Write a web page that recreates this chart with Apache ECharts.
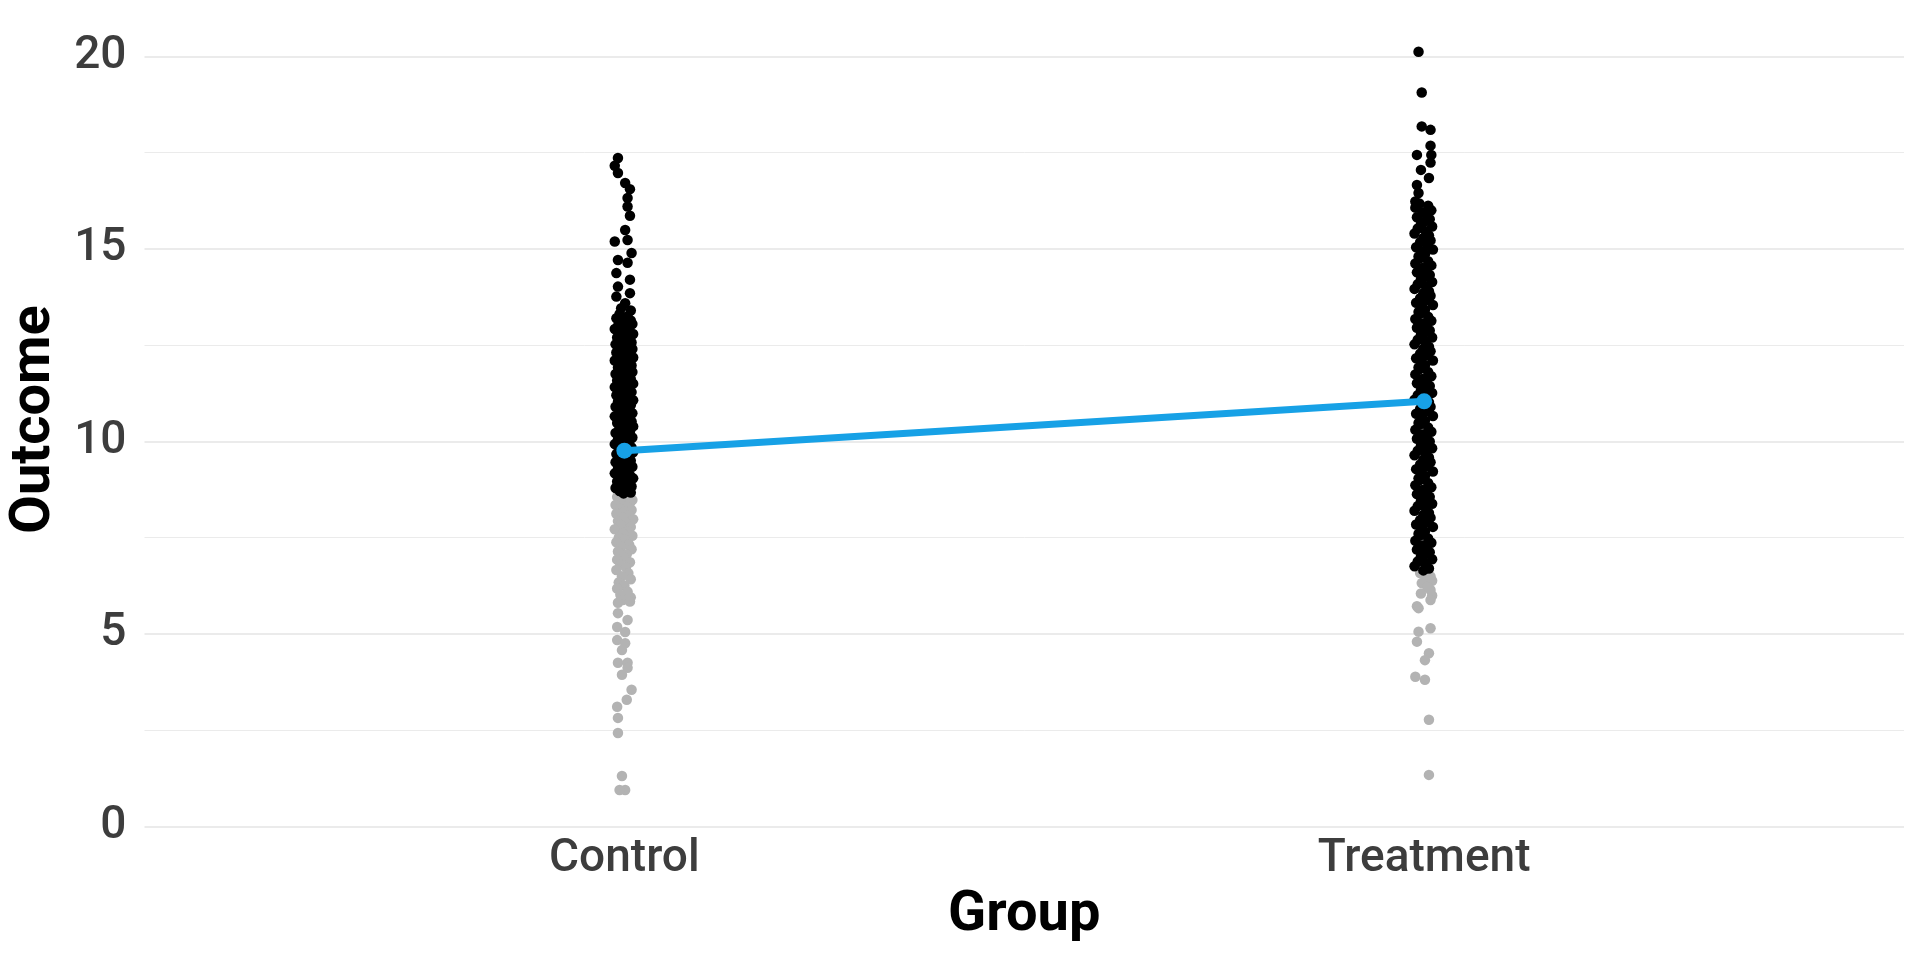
<!DOCTYPE html>
<html>
<head>
<meta charset="utf-8">
<script src="https://cdn.jsdelivr.net/npm/echarts@6/dist/echarts.min.js"></script>
<style>html,body{margin:0;padding:0;background:#fff}#c{width:1920px;height:960px}</style>
</head>
<body>
<div id="c"></div>
<script>
// Categories (positions 1 and 2 on the x axis)
const categories = ['Control', 'Treatment'];
const yTicks = [0, 5, 10, 15, 20];
// Group means (blue line)
const groupMeans = [9.76, 11.04];

// Points: [jitter in thousandths of a category unit, outcome]
const controlBlack = [
 [-8,17.36],[-12,17.16],[-8,16.97],[1,16.71],[7,16.55],[4,16.32],[4,16.1],[7,15.86],[1,15.49],[4,15.23],[-12,15.19],
 [9,14.89],[-8,14.71],[4,14.64],[-10,14.37],[7,14.2],[-8,14.02],[7,13.85],[-10,13.76],[1,13.59],[-4,13.46],[8,13.4],
 [-6,13.31],[4,13.25],[-10,13.2],[8,13.14],[-2,13.1],[10,13.05],[-8,13.0],[2,12.96],[-12,12.92],[6,12.88],[-4,12.83],
 [11,12.79],[0,12.74],[-9,12.7],[7,12.66],[-3,12.61],[9,12.57],[-11,12.52],[3,12.48],[-6,12.44],[10,12.4],[-1,12.35],
 [-10,12.31],[5,12.27],[-5,12.22],[11,12.18],[1,12.14],[-12,12.1],[7,12.05],[-3,12.01],[9,11.97],[-8,11.92],[3,11.88],
 [-1,11.84],[10,11.8],[-11,11.75],[5,11.71],[-5,11.67],[8,11.62],[-9,11.58],[1,11.54],[11,11.5],[-3,11.45],[-12,11.41],
 [6,11.37],[-6,11.33],[9,11.28],[0,11.24],[-10,11.2],[4,11.16],[-4,11.11],[11,11.07],[-8,11.03],[2,10.98],[8,10.94],
 [-11,10.9],[-2,10.86],[6,10.82],[-6,10.77],[10,10.73],[0,10.69],[-12,10.65],[4,10.6],[-4,10.56],[9,10.52],[-9,10.48],
 [2,10.43],[11,10.39],[-6,10.35],[-1,10.31],[7,10.26],[-11,10.22],[4,10.18],[-3,10.14],[10,10.1],[-8,10.05],[1,10.01],
 [6,9.97],[-12,9.93],[-4,9.88],[9,9.84],[-7,9.8],[3,9.76],[11,9.72],[-10,9.67],[-1,9.63],[6,9.59],[-5,9.55],[8,9.5],
 [-11,9.46],[2,9.42],[-3,9.38],[10,9.34],[-8,9.29],[4,9.25],[-1,9.21],[-12,9.17],[7,9.12],[-5,9.08],[11,9.04],[0,9.0],
 [-9,8.96],[5,8.91],[-3,8.87],[9,8.83],[-11,8.79],[2,8.75],[-6,8.71],[8,8.67],[-1,8.65]
];
const controlGray = [
 [5,8.6],[-9,8.56],[1,8.52],[10,8.48],[-4,8.44],[7,8.4],[-11,8.35],[3,8.3],[-6,8.26],[9,8.22],[-1,8.17],[-10,8.12],
 [6,8.08],[-3,8.03],[11,7.98],[-8,7.93],[2,7.88],[-5,7.83],[8,7.78],[-12,7.72],[4,7.66],[-2,7.6],[10,7.55],[-7,7.5],
 [1,7.44],[-10,7.38],[6,7.32],[-4,7.26],[9,7.2],[-8,7.14],[3,7.07],[-1,7.0],[-9,6.93],[7,6.86],[-5,6.8],[2,6.73],
 [-10,6.66],[5,6.58],[-3,6.5],[8,6.42],[-7,6.34],[0,6.26],[-9,6.18],[4,6.1],[-5,6.02],[8,5.95],[-2,5.88],
 [7,5.84],[-8,5.81],[-8,5.54],[4,5.36],[-9,5.18],[1,5.05],[-9,4.84],[1,4.76],[-3,4.58],[-8,4.25],[4,4.25],[4,4.12],
 [-3,3.94],[9,3.55],[3,3.29],[-9,3.11],[-8,2.82],[-8,2.43],[-3,1.31],[1,0.95],[-6,0.95]
];
const treatmentBlack = [
 [-7,20.12],[-3,19.06],[-3,18.18],[8,18.09],[8,17.68],[9,17.44],[-9,17.44],[8,17.24],[-4,17.05],[6,16.84],[-9,16.66],
 [-7,16.45],[-11,16.23],
 [-6,16.18],[5,16.12],[-11,16.07],[9,16.0],[-2,15.95],[3,15.88],[-9,15.82],[7,15.77],[0,15.7],[-4,15.64],[10,15.58],[-8,15.53],
 [2,15.46],[-12,15.4],[6,15.35],[-1,15.28],[8,15.22],[-5,15.17],[4,15.1],[-10,15.04],[11,14.98],[-3,14.93],[1,14.86],[-7,14.8],
 [-6,14.75],[5,14.68],[-11,14.62],[9,14.57],[-2,14.5],[3,14.44],[-9,14.39],[7,14.32],[0,14.26],[-4,14.21],[10,14.14],[-8,14.08],
 [2,14.03],[-12,13.96],[6,13.9],[-1,13.85],[8,13.78],[-5,13.72],[4,13.67],[-10,13.6],[11,13.54],[-3,13.49],[1,13.42],[-7,13.36],
 [-6,13.31],[5,13.24],[-11,13.18],[9,13.13],[-2,13.06],[3,13.0],[-9,12.95],[7,12.88],[0,12.82],[-4,12.77],[10,12.7],[-8,12.64],
 [2,12.59],[-12,12.52],[6,12.46],[-1,12.41],[8,12.34],[-5,12.28],[4,12.23],[-10,12.16],[11,12.1],[-3,12.05],[1,11.98],[-7,11.92],
 [-6,11.87],[5,11.8],[-11,11.74],[9,11.69],[-2,11.62],[3,11.56],[-9,11.51],[7,11.44],[0,11.38],[-4,11.33],[10,11.26],[-8,11.2],
 [2,11.15],[-12,11.08],[6,11.02],[-1,10.97],[8,10.9],[-5,10.84],[4,10.79],[-10,10.72],[11,10.66],[-3,10.61],[1,10.54],[-7,10.48],
 [-6,10.43],[5,10.36],[-11,10.3],[9,10.25],[-2,10.18],[3,10.12],[-9,10.07],[7,10.0],[0,9.94],[-4,9.89],[10,9.82],[-8,9.76],
 [2,9.71],[-12,9.64],[6,9.58],[-1,9.53],[8,9.46],[-5,9.4],[4,9.35],[-10,9.28],[11,9.22],[-3,9.17],[1,9.1],[-7,9.04],
 [-6,8.99],[5,8.92],[-11,8.86],[9,8.81],[-2,8.74],[3,8.68],[-9,8.63],[7,8.56],[0,8.5],[-4,8.45],[10,8.38],[-8,8.32],
 [2,8.27],[-12,8.2],[6,8.14],[-1,8.09],[8,8.02],[-5,7.96],[4,7.91],[-10,7.84],[11,7.78],[-3,7.73],[1,7.66],[-7,7.6],
 [-6,7.55],[5,7.48],[-11,7.42],[9,7.37],[-2,7.3],[3,7.24],[-9,7.19],[7,7.12],[0,7.06],[-4,7.01],[10,6.94],[-8,6.88],
 [2,6.83],[-12,6.76],[6,6.7],[-1,6.65]
];
const treatmentGray = [
 [1,6.66],[-5,6.58],[8,6.49],[3,6.45],[10,6.38],[-3,6.32],[4,6.22],[8,6.14],[-4,6.05],[10,6.0],[8,5.88],[-9,5.72],
 [-7,5.67],[8,5.15],[-7,5.06],[-9,4.8],[6,4.5],[1,4.32],[-11,3.89],[1,3.81],[6,2.77],[6,1.34]
];

function toXY(points, pos) {
  return points.map(p => [pos + p[0] / 1000, p[1]]);
}

const chart = echarts.init(document.getElementById('c'), null, {renderer: 'canvas'});
const font = 'Roboto';
const dot = 10.5;
chart.setOption({
  backgroundColor: '#ffffff',
  animation: false,
  grid: {left: 144.5, right: 16, top: 56.3, bottom: 133.5, containLabel: false, outerBoundsMode: 'none'},
  xAxis: {
    type: 'value', min: 0.4, max: 2.6,
    name: 'Group', nameLocation: 'middle', nameGap: 61,
    nameTextStyle: {fontFamily: font, fontSize: 56, fontWeight: 'bold', color: '#000000'},
    axisLine: {show: false}, axisTick: {show: false}, splitLine: {show: false},
    axisLabel: {
      customValues: [1, 2],
      formatter: v => categories[Math.round(v) - 1] || '',
      fontFamily: font, fontSize: 46, fontWeight: 500, color: '#3d3d3d', margin: 10
    }
  },
  yAxis: {
    type: 'value', min: yTicks[0], max: yTicks[yTicks.length - 1], interval: 5,
    name: 'Outcome', nameLocation: 'middle', nameGap: 71,
    nameTextStyle: {fontFamily: font, fontSize: 56, fontWeight: 'bold', color: '#000000', padding: [0, 0, 0, 44]},
    axisLine: {show: false}, axisTick: {show: false},
    axisLabel: {fontFamily: font, fontSize: 46, fontWeight: 500, color: '#3d3d3d', margin: 18},
    splitLine: {show: true, lineStyle: {color: '#ebebeb', width: 2}},
    minorTick: {show: false, splitNumber: 2},
    minorSplitLine: {show: true, lineStyle: {color: '#ebebeb', width: 1}}
  },
  series: [
    {type: 'scatter', data: toXY(controlGray, 1), symbolSize: dot, itemStyle: {color: '#b3b3b3', opacity: 1}, clip: false, z: 2},
    {type: 'scatter', data: toXY(treatmentGray, 2), symbolSize: dot, itemStyle: {color: '#b3b3b3', opacity: 1}, clip: false, z: 2},
    {type: 'scatter', data: toXY(controlBlack, 1), symbolSize: dot, itemStyle: {color: '#000000', opacity: 1}, clip: false, z: 3},
    {type: 'scatter', data: toXY(treatmentBlack, 2), symbolSize: dot, itemStyle: {color: '#000000', opacity: 1}, clip: false, z: 3},
    {type: 'line', data: groupMeans.map((m, i) => [i + 1, m]), symbol: 'circle', symbolSize: 16,
     lineStyle: {color: '#17a1e6', width: 7}, itemStyle: {color: '#17a1e6', opacity: 1}, z: 5}
  ]
});
</script>
</body>
</html>
